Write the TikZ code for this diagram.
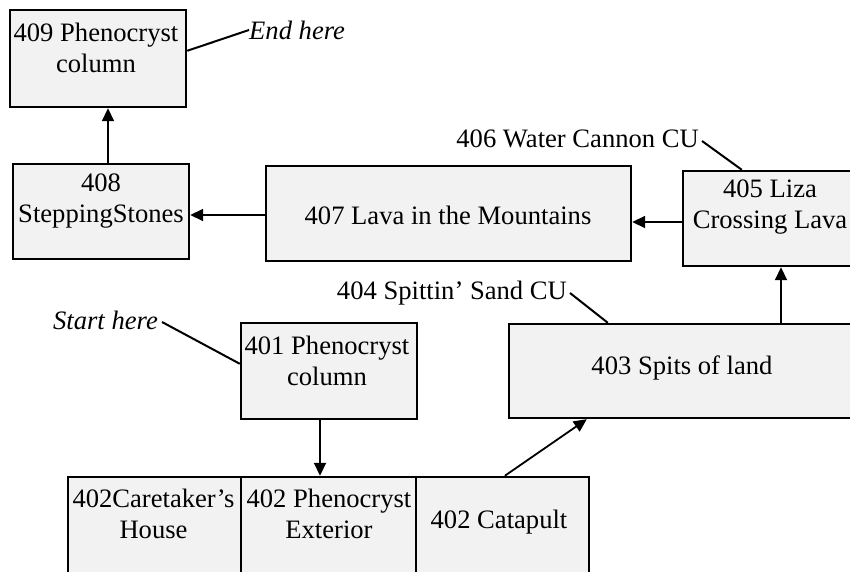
\documentclass[tikz,border=0pt]{standalone}
\usepackage{fontspec}
\setmainfont{Liberation Serif}
\usetikzlibrary{arrows.meta,calc}
\definecolor{boxfill}{HTML}{F2F2F2}
\tikzset{
  stepbox/.style={draw=black, fill=boxfill, line width=2.4pt, inner sep=0pt, rectangle},
  txt/.style={inner sep=0pt, align=center, font=\fontsize{26.6}{31}\selectfont},
  ctxt/.style={inner sep=0pt, font=\fontsize{26.6}{31}\selectfont},
  flow/.style={line width=1.8pt, -{Triangle[length=13pt,width=12pt]}},
  callout/.style={line width=2pt}
}
\begin{document}
\begin{tikzpicture}[x=1pt,y=-1pt]
\useasboundingbox (0,0) rectangle (850,572);
\clip (0,0) rectangle (850,572);
% boxes
\node[stepbox, minimum width=176, minimum height=97] (b409) at (98,58.5) {};
\node[stepbox, minimum width=176, minimum height=95] (b408) at (101,211.5) {};
\node[stepbox, minimum width=365, minimum height=95] (b407) at (448.5,213.5) {};
\node[stepbox, minimum width=174, minimum height=95] (b405) at (770,218.5) {};
\node[stepbox, minimum width=346, minimum height=94] (b403) at (682,371) {};
\node[stepbox, minimum width=176, minimum height=96] (b401) at (329,371) {};
\node[stepbox, minimum width=173, minimum height=123] (b402a) at (154.5,538.5) {};
\node[stepbox, minimum width=175, minimum height=123] (b402b) at (328.5,538.5) {};
\node[stepbox, minimum width=173, minimum height=123] (b402c) at (502.5,538.5) {};
% texts
\node[txt] (t409) at (96,47.5) {409 Phenocryst\\column};
\node[txt] (t408) at (101,201) {408\\SteppingStones};
\node[txt] (t407) at (448,215) {407 Lava in the Mountains};
\node[txt] (t405) at (770,207) {405 Liza\\Crossing Lava};
\node[txt] (t403) at (682,368) {403 Spits of land};
\node[txt] (t401) at (327,361) {401 Phenocryst\\column};
\node[txt] (t402a) at (153.5,513.5) {402Caretaker’s\\House};
\node[txt] (t402b) at (329,513.5) {402 Phenocryst\\Exterior};
\node[txt] (t402c) at (499,522) {402 Catapult};
% callout texts
\node[ctxt, anchor=west] (cend) at (249,30) {\itshape End here};
\node[ctxt, anchor=east] (c406) at (699,139) {406 Water Cannon CU};
\node[ctxt, anchor=east] (c404) at (567,293) {404 Spittin’ Sand CU};
\node[ctxt, anchor=east] (cstart) at (158,320) {\itshape Start here};
% helper coordinates
\coordinate (x108) at (108,0);
\coordinate (y215) at (0,215);
\coordinate (y222) at (0,222);
\coordinate (x781) at (781,0);
\coordinate (x320) at (320,0);
% flow arrows
\draw[flow] (b401.south -| x320) -- (b402b.north -| x320);
\draw[flow] ($(b402c.north west)+(90,0)$) -- ($(b403.south west)+(79,0)$);
\draw[flow] (b403.north -| x781) -- (b405.south -| x781);
\draw[flow] (b405.west |- y222) -- (b407.east |- y222);
\draw[flow] (b407.west |- y215) -- (b408.east |- y215);
\draw[flow] (b408.north -| x108) -- (b409.south -| x108);
% callout lines
\draw[callout] (cend.west) -- ($(b409.north east)+(0,42)$);
\draw[callout] ($(c406.east)+(3,2)$) -- ($(b405.north west)+(60,0)$);
\draw[callout] ($(c404.east)+(3,0)$) -- ($(b403.north west)+(100,0)$);
\draw[callout] ($(cstart.east)+(4,2)$) -- ($(b401.north west)+(0,42)$);
\end{tikzpicture}
\end{document}
